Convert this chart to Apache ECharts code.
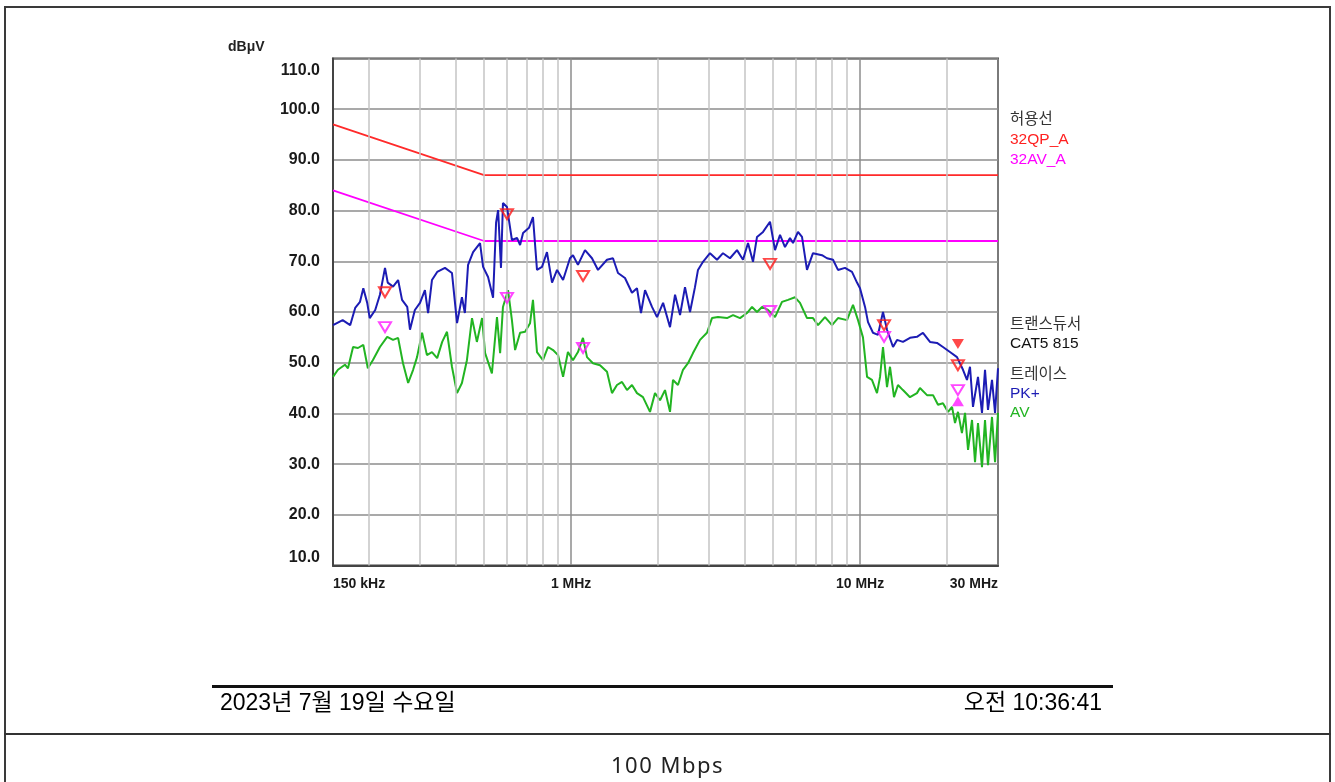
<!DOCTYPE html>
<html><head><meta charset="utf-8">
<script src="https://cdn.jsdelivr.net/npm/echarts@6/dist/echarts.min.js"></script>
<style>
html,body{margin:0;padding:0;background:#fff;width:1335px;height:782px;overflow:hidden;font-family:'Liberation Sans',Arial,'Noto Sans CJK KR',sans-serif;}
#frame{position:absolute;left:4px;top:6px;width:1327px;height:820px;border:2px solid #3a3a3a;box-sizing:border-box;}
#sep{position:absolute;left:4px;top:733px;width:1327px;height:2px;background:#333;}
#chart{position:absolute;left:0;top:0;width:1335px;height:782px;}
.t{position:absolute;white-space:nowrap;line-height:1;}
.lg{font-size:15.5px;left:1010px;}
</style>
</head><body>
<div id="frame"></div>
<div id="sep"></div>
<div id="chart"></div>
<div class="t" style="left:228px;top:39px;font-size:14px;font-weight:bold;color:#222;">dBμV</div>
<div class="t lg" style="top:110px;color:#333;font-family:'Noto Sans CJK KR';">허용선</div>
<div class="t lg" style="top:131px;color:#ff2020;">32QP_A</div>
<div class="t lg" style="top:151px;color:#ff00ff;">32AV_A</div>
<div class="t lg" style="top:315px;color:#333;font-family:'Noto Sans CJK KR';">트랜스듀서</div>
<div class="t lg" style="top:335px;color:#111;">CAT5 815</div>
<div class="t lg" style="top:365px;color:#333;font-family:'Noto Sans CJK KR';">트레이스</div>
<div class="t lg" style="top:385px;color:#1c1cb4;">PK+</div>
<div class="t lg" style="top:404px;color:#22b422;">AV</div>
<div style="position:absolute;left:212px;top:685px;width:901px;height:3px;background:#111;"></div>
<div class="t" style="left:220px;top:691px;font-size:23px;color:#000;">2023년 7월 19일 수요일</div>
<div class="t" style="right:233px;top:691px;font-size:23px;color:#000;">오전 10:36:41</div>
<div class="t" style="left:0;width:1335px;text-align:center;top:753px;font-size:22px;color:#222;font-family:'Noto Sans','Liberation Sans';letter-spacing:1.5px;">100 Mbps</div>
<script>
// ---- data (frequency in MHz, level in dBμV) ----
const xTickValues = [0.15, 1, 10, 30];
const xTickLabels = ['150 kHz', '1 MHz', '10 MHz', '30 MHz'];
const minorGridFreqs = [0.2,0.3,0.4,0.5,0.6,0.7,0.8,0.9,2,3,4,5,6,7,8,9,20];

const qpLimitFreq  = [0.15, 0.5, 30];
const qpLimitLevel = [97, 87, 87];
const avLimitFreq  = [0.15, 0.5, 30];
const avLimitLevel = [84, 74, 74];

const pkFreq = [0.150,0.162,0.172,0.179,0.186,0.191,0.197,0.201,0.210,0.218,0.227,0.232,0.242,0.252,0.260,0.271,0.277,0.288,0.300,0.312,0.320,0.330,0.344,0.366,0.387,0.403,0.419,0.429,0.440,0.458,0.484,0.496,0.516,0.537,0.550,0.559,0.572,0.581,0.600,0.624,0.650,0.666,0.682,0.715,0.738,0.762,0.793,0.825,0.859,0.894,0.938,0.991,1.015,1.056,1.117,1.181,1.239,1.331,1.396,1.453,1.536,1.624,1.690,1.745,1.802,1.905,1.983,2.081,2.199,2.289,2.382,2.478,2.579,2.683,2.748,2.860,3.024,3.198,3.354,3.546,3.750,3.934,4.094,4.260,4.398,4.614,4.878,5.076,5.283,5.496,5.720,5.859,6.096,6.294,6.549,6.870,7.380,7.680,8.057,8.384,8.865,9.374,9.756,9.992,10.40,10.65,11.08,11.53,12.00,12.39,13.00,13.42,14.07,14.88,15.73,16.50,17.45,18.45,19.35,20.46,21.64,22.70,23.43,24.00,24.58,25.58,26.41,27.05,27.70,28.60,29.30,30.0];
const pkLevel = [57.4,58.4,57.4,60.8,62.0,64.7,61.8,58.8,60.4,63.4,68.7,65.8,65.0,66.3,62.4,61.0,56.5,60.4,61.8,64.3,59.8,66.3,67.9,68.7,67.7,57.8,62.9,59.8,69.3,71.8,73.6,68.9,66.9,62.8,77.6,80.1,68.7,81.5,80.7,74.2,74.6,73.2,75.6,76.6,78.7,68.3,68.9,71.8,65.8,68.3,66.3,70.6,71.2,69.3,72.2,70.6,68.3,70.3,70.6,67.7,66.7,63.8,64.7,59.8,64.3,61.0,59.0,61.8,57.0,63.4,59.4,64.9,60.0,64.9,68.3,69.9,71.6,70.3,71.6,70.6,72.2,70.3,73.6,69.9,74.8,75.8,77.8,72.2,75.2,72.8,74.6,73.6,75.8,74.8,68.3,71.6,71.2,70.6,70.3,68.3,68.7,67.9,65.8,64.7,61.0,58.0,55.9,55.5,60.0,56.5,53.1,54.5,54.1,54.9,55.1,55.9,54.1,53.9,53.1,52.1,51.1,48.6,46.6,49.2,41.3,47.2,40.1,48.6,40.7,46.6,40.1,48.9];

const avFreq = [0.150,0.156,0.165,0.169,0.176,0.183,0.191,0.198,0.206,0.218,0.231,0.242,0.252,0.262,0.273,0.284,0.293,0.305,0.317,0.330,0.344,0.358,0.372,0.387,0.403,0.419,0.436,0.454,0.472,0.492,0.504,0.532,0.554,0.568,0.581,0.605,0.624,0.640,0.666,0.693,0.721,0.738,0.762,0.799,0.832,0.866,0.901,0.938,0.975,1.015,1.056,1.099,1.135,1.190,1.259,1.331,1.385,1.441,1.500,1.561,1.624,1.690,1.773,1.875,1.951,2.031,2.113,2.199,2.252,2.343,2.439,2.538,2.641,2.793,2.952,3.072,3.223,3.463,3.633,3.841,4.061,4.227,4.398,4.577,4.801,5.076,5.367,5.630,5.952,6.195,6.549,6.870,7.150,7.560,7.994,8.384,9.008,9.450,9.835,10.23,10.57,10.99,11.44,11.72,12.00,12.39,12.69,13.10,13.52,14.07,14.88,15.73,16.11,17.04,17.88,18.60,19.35,20.15,20.80,21.30,21.81,22.51,23.07,23.63,24.39,24.98,25.58,26.41,27.05,27.70,28.60,29.30,30.0];
const avLevel = [47.2,48.6,49.6,48.9,53.1,52.9,53.5,48.9,50.5,53.1,55.1,54.5,54.9,49.9,46.0,48.6,51.1,55.9,51.5,52.1,50.9,54.1,56.1,49.2,44.0,46.0,50.5,58.8,54.1,58.8,51.9,47.9,59.0,51.9,61.0,64.3,58.4,52.5,55.9,56.1,57.8,62.4,52.1,50.5,53.1,52.5,51.5,47.2,52.1,50.5,52.1,54.9,51.1,49.9,49.5,48.2,44.0,45.6,46.2,44.6,45.6,44.0,43.2,40.3,44.0,42.6,44.6,40.3,46.6,45.6,48.6,49.9,51.9,54.5,55.9,58.8,59.0,58.8,59.4,58.8,59.8,61.0,60.0,61.0,60.4,59.0,62.0,62.4,62.9,61.8,58.8,58.8,57.4,59.0,57.4,58.8,58.4,61.4,58.4,55.0,47.2,46.6,44.0,47.2,53.1,45.2,49.2,43.2,45.6,44.6,43.2,44.0,45.0,43.6,43.6,41.7,42.0,40.3,41.3,38.1,40.3,36.1,40.1,32.8,38.7,30.4,38.1,29.4,38.7,29.8,39.3,30.4,40.1];

// measured markers
const qpMarkFreq  = [0.227, 0.600, 1.10, 4.88, 12.1, 21.8];
const qpMarkLevel = [63.9, 79.3, 67.1, 69.5, 57.4, 49.5];
const qpFilledFreq  = [21.8];
const qpFilledLevel = [53.7];
const avMarkFreq  = [0.227, 0.600, 1.10, 4.88, 12.1, 21.8];
const avMarkLevel = [57.0, 62.8, 52.9, 60.2, 55.1, 44.6];
const avFilledFreq  = [21.8];
const avFilledLevel = [42.4];

const yTickValues = [10,20,30,40,50,60,70,80,90,100,110];

const pairs = (xs, ys) => xs.map((x, i) => [x, ys[i]]);
const yMax = yTickValues[yTickValues.length - 1];

const chart = echarts.init(document.getElementById('chart'));
chart.setOption({
  animation: false,
  grid: { left: 333, top: 58.5, width: 665, height: 507, show: true, borderColor: '#444', borderWidth: 2, backgroundColor: 'transparent' },
  xAxis: {
    type: 'log', logBase: 10, min: 0.15, max: 30,
    axisLine: { show: true, lineStyle: { color: '#444', width: 2 } },
    axisTick: { show: false },
    splitLine: { show: true, lineStyle: { color: '#8c8c8c', width: 1.5 } },
    axisLabel: {
      margin: 12, fontSize: 14, fontWeight: 'bold', color: '#1a1a1a', fontFamily: 'Liberation Sans',
      alignMinLabel: 'left', alignMaxLabel: 'right',
      formatter: v => {
        let best = 0;
        xTickValues.forEach((t, i) => { if (Math.abs(Math.log(t / v)) < Math.abs(Math.log(xTickValues[best] / v))) best = i; });
        return xTickLabels[best];
      }
    }
  },
  yAxis: {
    type: 'value', min: yTickValues[0], max: yMax, interval: 10,
    axisLine: { show: true, lineStyle: { color: '#444', width: 2 } },
    axisTick: { show: false },
    splitLine: { show: true, lineStyle: { color: '#8c8c8c', width: 1.5 } },
    axisLabel: {
      margin: 13, fontSize: 16, fontWeight: 'bold', color: '#1a1a1a', fontFamily: 'Liberation Sans',
      verticalAlignMinLabel: 'bottom', verticalAlignMaxLabel: 'top',
      rich: { mx: { fontSize: 16, fontWeight: 'bold', color: '#1a1a1a', fontFamily: 'Liberation Sans', lineHeight: 24 } },
      formatter: v => v === yMax ? '{mx|' + v.toFixed(1) + '}' : v.toFixed(1)
    }
  },
  series: [
    { type: 'line', data: [], z: 1, silent: true,
      markLine: { silent: true, symbol: ['none', 'none'], label: { show: false },
        lineStyle: { color: '#c4c4c4', width: 1.5, type: 'solid' },
        emphasis: { disabled: true },
        data: minorGridFreqs.map(f => ({ xAxis: f })) } },
    { name: '32QP_A', type: 'line', data: pairs(qpLimitFreq, qpLimitLevel), symbol: 'none', z: 3,
      lineStyle: { color: '#ff2a2a', width: 1.8 } },
    { name: '32AV_A', type: 'line', data: pairs(avLimitFreq, avLimitLevel), symbol: 'none', z: 3,
      lineStyle: { color: '#ff00ff', width: 1.8 } },
    { name: 'AV', type: 'line', data: pairs(avFreq, avLevel), symbol: 'none', z: 4,
      lineStyle: { color: '#22b422', width: 2 } },
    { name: 'PK+', type: 'line', data: pairs(pkFreq, pkLevel), symbol: 'none', z: 5,
      lineStyle: { color: '#1c1cb4', width: 2 } },
    { type: 'scatter', data: pairs(qpMarkFreq, qpMarkLevel), symbol: 'triangle', symbolRotate: 180, symbolSize: [12, 10], z: 10,
      itemStyle: { color: 'rgba(255,255,255,0)', borderColor: '#ff1a1a', borderWidth: 2 } },
    { type: 'scatter', data: pairs(qpFilledFreq, qpFilledLevel), symbol: 'triangle', symbolRotate: 180, symbolSize: [12, 10], z: 10,
      itemStyle: { color: '#ff1a1a' } },
    { type: 'scatter', data: pairs(avMarkFreq, avMarkLevel), symbol: 'triangle', symbolRotate: 180, symbolSize: [12, 10], z: 10,
      itemStyle: { color: 'rgba(255,255,255,0)', borderColor: '#ff1aff', borderWidth: 2 } },
    { type: 'scatter', data: pairs(avFilledFreq, avFilledLevel), symbol: 'triangle', symbolSize: [12, 10], z: 10,
      itemStyle: { color: '#ff1aff' } }
  ]
});
</script>
</body></html>
